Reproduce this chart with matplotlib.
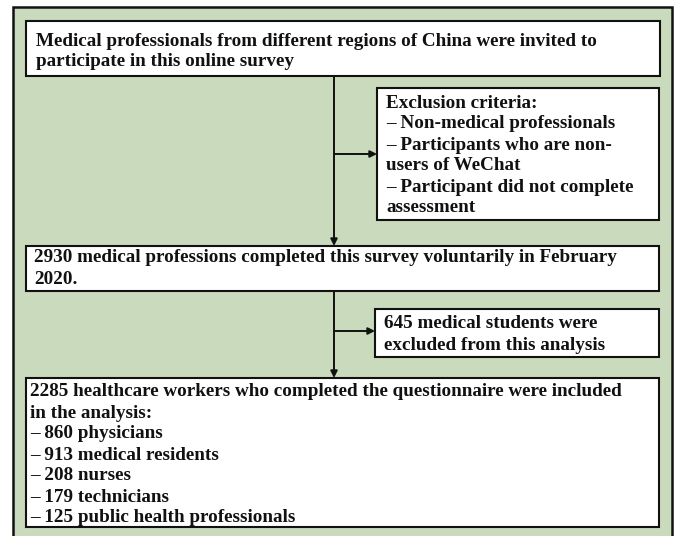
import matplotlib
matplotlib.use("Agg")
import matplotlib.pyplot as plt
from matplotlib.patches import Rectangle

# ── Flowchart text ─────────────────────────────────────────────────────────────
invited_lines = [
    "Medical professionals from different regions of China were invited to",
    "participate in this online survey",
]
exclusion_lines = [
    "Exclusion criteria:",
    "– Non-medical professionals",
    "– Participants who are non-",
    "users of WeChat",
    "– Participant did not complete",
    "assessment",
]
completed_lines = [
    "2930 medical professions completed this survey voluntarily in February",
    "2020.",
]
students_lines = [
    "645 medical students were",
    "excluded from this analysis",
]
included_lines = [
    "2285 healthcare workers who completed the questionnaire were included",
    "in the analysis:",
    "– 860 physicians",
    "– 913 medical residents",
    "– 208 nurses",
    "– 179 technicians",
    "– 125 public health professionals",
]

GREEN = "#c9dbbc"
FONT = dict(family="Liberation Serif", fontweight="bold", fontsize=13.8, color="#111111")
LINE_STEP = 21

W, H = 675, 536
fig = plt.figure(figsize=(W / 100, H / 100), dpi=100)
ax = fig.add_axes([0, 0, 1, 1])
ax.set_xlim(0, W)
ax.set_ylim(H, 0)
ax.axis("off")

# outer green panel
ax.add_patch(Rectangle((13, 7), 659, 545, facecolor=GREEN, edgecolor="#111111", lw=1.8))

# (x0, y0, x1, y1, text x, first line y, lines)
boxes = [
    (26, 21, 660, 76, 36, 41, invited_lines),
    (377, 88, 659, 220, 386, 103, exclusion_lines),
    (26, 246, 659, 291, 34, 258, completed_lines),
    (375, 309, 659, 357, 384, 324, students_lines),
    (26, 378, 659, 527, 30, 392, included_lines),
]
for x0, y0, x1, y1, tx, ty, lines in boxes:
    ax.add_patch(Rectangle((x0, y0), x1 - x0, y1 - y0, facecolor="white",
                           edgecolor="#111111", lw=1.5, zorder=2))
    for i, line in enumerate(lines):
        ax.text(tx, ty + i * LINE_STEP, line, ha="left", va="center", zorder=3, **FONT)

# connectors
arrow = dict(arrowstyle="-|>", color="#111111", lw=1.4, mutation_scale=10,
             shrinkA=0, shrinkB=0)
ax.annotate("", xy=(334, 246), xytext=(334, 76), arrowprops=arrow)
ax.annotate("", xy=(377, 154), xytext=(334, 154), arrowprops=arrow)
ax.annotate("", xy=(334, 378), xytext=(334, 291), arrowprops=arrow)
ax.annotate("", xy=(375, 331), xytext=(334, 331), arrowprops=arrow)

plt.savefig("out.png", dpi=100)
plt.close()
